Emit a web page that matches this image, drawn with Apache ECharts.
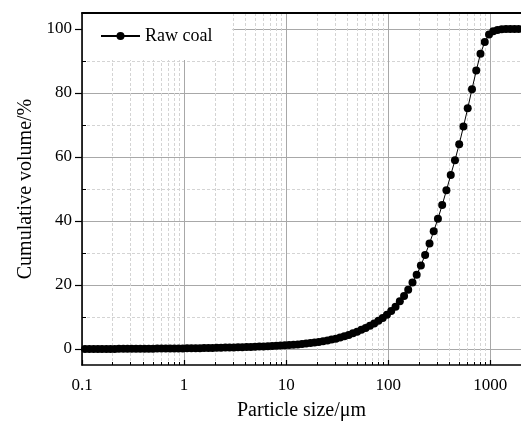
<!DOCTYPE html>
<html>
<head>
<meta charset="utf-8">
<script src="https://cdn.jsdelivr.net/npm/echarts@6/dist/echarts.min.js"></script>
<style>
html,body{margin:0;padding:0;background:#fff;}
#chart{width:521px;height:433px;}
</style>
</head>
<body>
<div id="chart"></div>
<script>
// Particle size (µm)
const particleSize = [
  0.107, 0.118, 0.130, 0.143, 0.157, 0.173, 0.190, 0.209, 0.230, 0.254, 0.279, 0.307,
  0.338, 0.372, 0.410, 0.451, 0.496, 0.546, 0.601, 0.662, 0.729, 0.802, 0.883, 0.972,
  1.07, 1.18, 1.30, 1.43, 1.57, 1.73, 1.90, 2.09, 2.30, 2.54, 2.79, 3.07,
  3.38, 3.72, 4.10, 4.51, 4.96, 5.46, 6.01, 6.62, 7.29, 8.02, 8.83, 9.72,
  10.7, 11.8, 13.0, 14.3, 15.7, 17.3, 19.0, 20.9, 23.0, 25.4, 27.9, 30.7,
  33.8, 37.2, 41.0, 45.1, 49.6, 54.6, 60.1, 66.2, 72.9, 80.2, 88.3, 97.2,
  107, 118, 130, 143, 157, 173, 190, 209, 230, 254, 279, 307,
  338, 372, 410, 451, 496, 546, 601, 662, 729, 802, 883, 972,
  1070, 1177, 1296, 1426, 1570, 1728, 1902
];
// Cumulative volume (%)
const cumulativeVolume = [
  0.00, 0.00, 0.01, 0.01, 0.02, 0.02, 0.03, 0.03, 0.04, 0.05, 0.05, 0.06,
  0.07, 0.08, 0.09, 0.10, 0.11, 0.12, 0.13, 0.14, 0.15, 0.16, 0.17, 0.19,
  0.21, 0.23, 0.25, 0.27, 0.29, 0.31, 0.34, 0.37, 0.40, 0.43, 0.46, 0.49,
  0.53, 0.57, 0.61, 0.65, 0.70, 0.75, 0.80, 0.86, 0.92, 0.99, 1.06, 1.14,
  1.23, 1.33, 1.44, 1.56, 1.70, 1.85, 2.02, 2.21, 2.42, 2.66, 2.93, 3.23,
  3.6, 4.0, 4.4, 4.9, 5.4, 6.0, 6.6, 7.3, 8.0, 8.8, 9.7, 10.7,
  11.9, 13.2, 14.9, 16.6, 18.5, 20.8, 23.2, 26.1, 29.4, 33.0, 36.8, 40.7,
  45.0, 49.6, 54.4, 59.0, 64.0, 69.5, 75.2, 81.2, 87.0, 92.3, 95.9, 98.3,
  99.3, 99.7, 99.9, 100, 100, 100, 100
];
const seriesName = 'Raw coal';
const xMajorTicks = [0.1, 1, 10, 100, 1000];
const xMinorTicks = [0.2,0.3,0.4,0.5,0.6,0.7,0.8,0.9, 2,3,4,5,6,7,8,9, 20,30,40,50,60,70,80,90, 200,300,400,500,600,700,800,900];
const yMajorTicks = [0, 20, 40, 60, 80, 100];
const yMinorTicks = [10, 30, 50, 70, 90];
const xMin = 0.1, xMax = 2000, yMin = -5, yMax = 105;

const FONT = '"Liberation Serif", "Times New Roman", serif';
const chart = echarts.init(document.getElementById('chart'), null, {renderer: 'canvas'});

const data = particleSize.map((x, i) => [x, cumulativeVolume[i]]);

chart.setOption({
  animation: false,
  backgroundColor: '#fff',
  grid: {left: 82, right: 0, top: 13, bottom: 68, containLabel: false},
  legend: {
    data: [seriesName],
    left: 83, top: 14,
    backgroundColor: '#fff',
    padding: [13, 20, 15, 17],
    itemWidth: 39, itemHeight: 10,
    textStyle: {fontFamily: FONT, fontSize: 18, color: '#000'},
    z: 4
  },
  xAxis: [
    {
      type: 'log', logBase: 10, min: xMin, max: xMax,
      position: 'bottom',
      name: 'Particle size/\u03bcm', nameLocation: 'middle', nameGap: 36,
      nameTextStyle: {fontFamily: FONT, fontSize: 20, color: '#000'},
      axisLine: {show: true, onZero: false, lineStyle: {color: '#000', width: 1.6}},
      axisTick: {show: true, inside: true, length: 5, lineStyle: {color: '#000', width: 1.2}},
      axisLabel: {
        fontFamily: FONT, fontSize: 17, color: '#000', margin: 12,
        showMaxLabel: false,
        formatter: v => {
          const r = Math.round(v * 1000) / 1000;
          return xMajorTicks.some(t => Math.abs(t - r) < 1e-9) ? String(r) : '';
        }
      },
      splitLine: {show: true, lineStyle: {color: '#a8a8a8', width: 1}},
      minorTick: {show: false}
    },
    {
      type: 'value', min: Math.log10(xMin), max: Math.log10(xMax),
      position: 'bottom',
      axisLine: {show: false, onZero: false},
      axisTick: {show: true, inside: true, length: 3, lineStyle: {color: '#000', width: 1},
        customValues: xMinorTicks.map(v => Math.log10(v))},
      axisLabel: {show: false},
      splitLine: {show: true, lineStyle: {color: '#d4d4d4', width: 1, type: [3, 2]}}
    },
    {
      type: 'value', min: 0, max: 1, position: 'top',
      axisLine: {show: true, onZero: false, lineStyle: {color: '#000', width: 1.8}},
      axisTick: {show: false}, axisLabel: {show: false}, splitLine: {show: false},
      z: 6
    }
  ],
  yAxis: [
    {
      type: 'value', min: yMin, max: yMax,
      position: 'left',
      name: 'Cumulative volume/%', nameLocation: 'middle', nameGap: 42,
      nameTextStyle: {fontFamily: FONT, fontSize: 20, color: '#000'},
      axisLine: {show: true, onZero: false, lineStyle: {color: '#000', width: 1.6}},
      axisTick: {show: true, inside: false, length: 7, lineStyle: {color: '#000', width: 1.2},
        customValues: yMajorTicks},
      axisLabel: {fontFamily: FONT, fontSize: 17, color: '#000', margin: 10,
        customValues: yMajorTicks},
      splitLine: {show: true, lineStyle: {color: '#a8a8a8', width: 1}}
    },
    {
      type: 'value', min: yMin, max: yMax,
      position: 'left',
      axisLine: {show: false, onZero: false},
      axisTick: {show: true, inside: true, length: 4, lineStyle: {color: '#000', width: 1},
        customValues: yMinorTicks},
      axisLabel: {show: false},
      splitLine: {show: true, lineStyle: {color: '#d4d4d4', width: 1, type: [3, 2]}}
    }
  ],
  series: [{
    name: seriesName,
    type: 'line',
    xAxisIndex: 0, yAxisIndex: 0,
    data: data,
    symbol: 'circle', symbolSize: 8,
    showSymbol: true,
    itemStyle: {color: '#000'},
    lineStyle: {color: '#000', width: 1},
    clip: true,
    z: 5
  }]
});
</script>
</body>
</html>
